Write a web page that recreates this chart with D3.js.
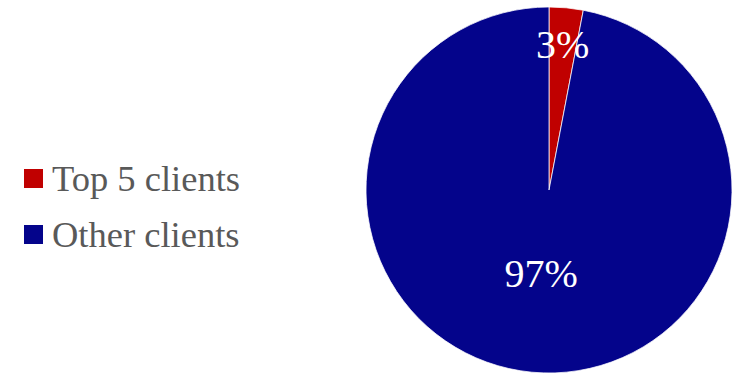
<!DOCTYPE html>
<html>
<head>
<meta charset="utf-8">
<script src="https://cdn.jsdelivr.net/npm/d3@7"></script>
<style>
  html, body { margin: 0; padding: 0; background: #fff; }
  svg { display: block; }
</style>
</head>
<body>
<svg id="chart" width="733" height="374"></svg>
<script>
// Client share of revenue
const categories = ["Top 5 clients", "Other clients"];
const shares = [3, 97];
const colors = ["#C00000", "#04048B"];

const svg = d3.select("#chart");
const W = 733, H = 374;
const cx = 549, cy = 190, radius = 183;

const pie = d3.pie().sort(null).value(d => d.value);
const data = categories.map((c, i) => ({ name: c, value: shares[i], color: colors[i] }));
const arcs = pie(data);

const arc = d3.arc().innerRadius(0).outerRadius(radius);

const g = svg.append("g").attr("transform", `translate(${cx},${cy})`);

g.selectAll("path.slice")
  .data(arcs)
  .join("path")
  .attr("class", "slice")
  .attr("d", arc)
  .attr("fill", d => d.data.color)
  .attr("stroke", "#fff")
  .attr("stroke-width", 0.75);

// label radii: small slice labelled near the rim, large slice nearer the centre
const labelRadius = [radius * 0.8, radius * 0.46];
g.selectAll("text.pct")
  .data(arcs)
  .join("text")
  .attr("class", "pct")
  .attr("transform", (d, i) => {
    const a = (d.startAngle + d.endAngle) / 2;
    const r = labelRadius[i];
    return `translate(${Math.sin(a) * r},${-Math.cos(a) * r})`;
  })
  .attr("text-anchor", "middle")
  .attr("dominant-baseline", "central")
  .attr("font-family", "'Liberation Serif', 'Times New Roman', serif")
  .attr("font-size", 40)
  .attr("fill", "#fff")
  .text(d => d3.format(".0f")(d.data.value) + "%");

// legend
const legend = svg.append("g");
const rows = legend.selectAll("g.item")
  .data(data)
  .join("g")
  .attr("class", "item")
  .attr("transform", (d, i) => `translate(24,${191 + i * 56})`);

rows.append("rect")
  .attr("x", 0)
  .attr("y", -22)
  .attr("width", 19)
  .attr("height", 19)
  .attr("fill", d => d.color);

rows.append("text")
  .attr("x", 28)
  .attr("y", 0)
  .attr("font-family", "'Liberation Serif', 'Times New Roman', serif")
  .attr("font-size", 36.5)
  .attr("fill", "#595959")
  .text(d => d.name);
</script>
</body>
</html>
